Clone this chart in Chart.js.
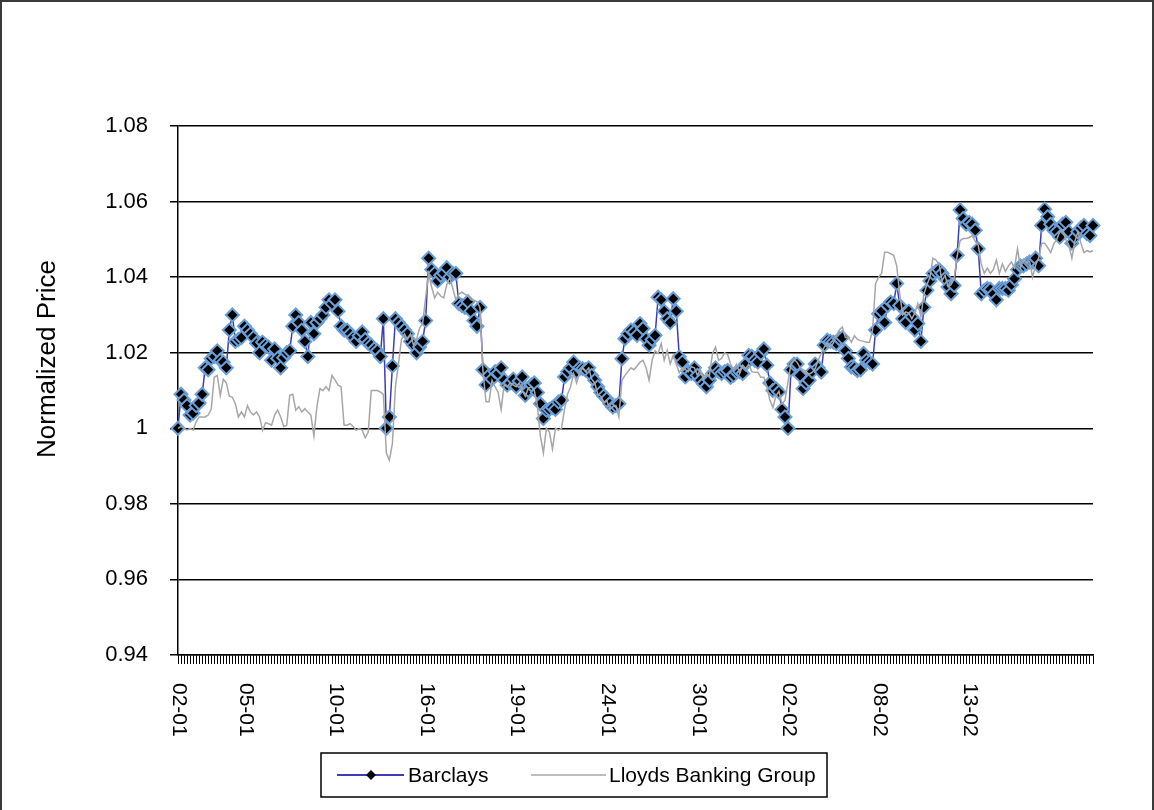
<!DOCTYPE html>
<html>
<head>
<meta charset="utf-8">
<title>Normalized Price</title>
<script src="https://cdn.jsdelivr.net/npm/chart.js@4.4.1/dist/chart.umd.min.js"></script>
<style>
  html, body { margin: 0; padding: 0; background: #fff; }
  #frame { position: relative; width: 1154px; height: 810px; overflow: hidden; }
  #frame .edge { position: absolute; left: 0; top: 0; width: 1150px; height: 830px; border: 2px solid #3a3a3a; pointer-events: none; }
  canvas { display: block; }
</style>
</head>
<body>
<div id="frame">
  <canvas id="priceChart" width="1154" height="810"></canvas>
  <div class="edge"></div>
</div>
<script>
// x axis: one category per observation, date labels only at a few of them
const tickPos = [0, 22, 52, 82, 112, 142, 172, 202, 232, 262];
const tickText = ["02-01", "05-01", "10-01", "16-01", "19-01", "24-01", "30-01", "02-02", "08-02", "13-02"];
const yTicks = [0.94, 0.96, 0.98, 1, 1.02, 1.04, 1.06, 1.08];

const barclays = [
  1.000, 1.009, 1.0075, 1.006, 1.0035, 1.004, 1.006, 1.0067, 1.009, 1.016,
  1.0155, 1.0185, 1.019, 1.0205, 1.018, 1.0175, 1.016, 1.026, 1.030, 1.023,
  1.0235, 1.024, 1.027, 1.026, 1.025, 1.024, 1.0225, 1.020, 1.0228, 1.022,
  1.0215, 1.018, 1.021, 1.0185, 1.016, 1.0187, 1.020, 1.0205, 1.027, 1.030,
  1.028, 1.026, 1.023, 1.019, 1.028, 1.025, 1.028, 1.029, 1.030, 1.032,
  1.034, 1.033, 1.034, 1.031, 1.027, 1.026, 1.026, 1.025, 1.024, 1.023,
  1.0245,
  1.0255, 1.0235, 1.0225, 1.022, 1.021, 1.0205, 1.019, 1.029, 1.000, 1.003,
  1.0165, 1.029, 1.028, 1.027, 1.026, 1.025, 1.023, 1.022, 1.020, 1.0215,
  1.023, 1.0285, 1.045, 1.042, 1.041, 1.039, 1.0405, 1.041, 1.0425, 1.040,
  1.041, 1.041, 1.033, 1.0325, 1.032, 1.0335, 1.031, 1.0285, 1.027, 1.032,
  1.0155, 1.0115, 1.014, 1.013, 1.015, 1.0145, 1.016, 1.0128, 1.0114, 1.012,
  1.013, 1.011, 1.0125, 1.0136, 1.0087, 1.010, 1.0115, 1.012, 1.0095, 1.0065,
  1.0026, 1.0048, 1.005, 1.0055, 1.005, 1.007, 1.0074, 1.0136, 1.015, 1.016,
  1.0175, 1.015, 1.016, 1.0158, 1.0155, 1.016, 1.014, 1.0127, 1.011, 1.0095,
  1.0085, 1.0078, 1.0065, 1.0056, 1.006, 1.0065, 1.0184, 1.0237, 1.025, 1.026,
  1.0255, 1.0246, 1.0277, 1.0264, 1.0237, 1.022, 1.0235, 1.0246, 1.0347, 1.034,
  1.031, 1.029, 1.028, 1.0343, 1.031, 1.0189, 1.0175, 1.0136, 1.015, 1.0145,
  1.016, 1.014, 1.0127, 1.0118, 1.011, 1.0127, 1.0145, 1.016, 1.015, 1.0145,
  1.015, 1.0153, 1.0135, 1.014, 1.0149, 1.015, 1.0145, 1.017, 1.0193, 1.019,
  1.018, 1.0175, 1.0198, 1.021, 1.0167, 1.012, 1.010, 1.0105, 1.0096, 1.005,
  1.003, 1.000, 1.0155, 1.017, 1.017, 1.014, 1.0105, 1.012, 1.0127, 1.015,
  1.017, 1.016, 1.0149, 1.022, 1.0233, 1.023, 1.0228, 1.0224, 1.0237, 1.024,
  1.0205, 1.0185, 1.0162, 1.016, 1.0153, 1.0155, 1.0198, 1.018, 1.0175, 1.017,
  1.026, 1.0303, 1.031, 1.028, 1.0325, 1.0334, 1.033, 1.0383, 1.0325, 1.029,
  1.028, 1.031, 1.0295, 1.026, 1.0277, 1.023, 1.032, 1.0365, 1.039, 1.041,
  1.0415, 1.042, 1.041, 1.0396, 1.0374, 1.0356, 1.0378, 1.0458, 1.0578, 1.0555,
  1.054, 1.0545, 1.054, 1.0524, 1.0475, 1.0356, 1.0365, 1.037, 1.0368, 1.0355,
  1.034, 1.037, 1.037, 1.037, 1.0365, 1.038, 1.0396, 1.042, 1.043, 1.043,
  1.0435, 1.044, 1.044, 1.045, 1.043, 1.0537, 1.058, 1.056, 1.054, 1.0524,
  1.052, 1.0506, 1.054, 1.0545, 1.052, 1.049, 1.0506, 1.052, 1.053, 1.0537,
  1.0515, 1.051, 1.0537
];

const lloyds = [
  1.000, 1.0005, 1.000, 0.9995, 1.000, 0.9995, 1.0017, 1.003, 1.003, 1.003,
  1.0035, 1.005, 1.0135, 1.014, 1.0087, 1.013, 1.012, 1.0085, 1.0082, 1.0065,
  1.003, 1.0043, 1.003, 1.006, 1.0043, 1.0035, 1.0043, 1.003, 0.9995, 1.0015,
  1.0012, 1.0008, 1.0035, 1.0048, 1.003, 1.0005, 1.0008, 1.0087, 1.009, 1.0048,
  1.0057, 1.0043, 1.0052, 1.0043, 1.0035, 0.998, 1.0057, 1.0105, 1.010, 1.011,
  1.010, 1.014, 1.0128, 1.0114, 1.011, 1.0008, 1.0008, 1.0012, 1.0005, 0.9995,
  1.000,
  0.9995, 0.9975, 0.999, 1.010, 1.010, 1.010, 1.0096, 1.009, 0.9935, 0.9915,
  0.996, 1.011, 1.017, 1.0235, 1.025, 1.0235, 1.025, 1.022, 1.0235, 1.0265,
  1.0277, 1.0345, 1.041, 1.0374, 1.0345, 1.036, 1.035, 1.0345, 1.038, 1.040,
  1.037, 1.034, 1.0355, 1.036, 1.0355, 1.035, 1.034, 1.0339, 1.0335, 1.032,
  1.015, 1.007, 1.007, 1.0127, 1.011, 1.0095, 1.005, 1.0115, 1.011, 1.012,
  1.0115, 1.011, 1.012, 1.010, 1.0085, 1.0105, 1.011, 1.010, 1.006, 0.998,
  0.9935, 1.000, 0.999, 0.9945, 1.000, 0.9995, 1.000, 1.005, 1.009, 1.011,
  1.0145, 1.012, 1.0148, 1.016, 1.015, 1.016, 1.013, 1.012, 1.009, 1.0085,
  1.007, 1.0073, 1.005, 1.0057, 1.006, 1.003, 1.0127, 1.014, 1.015, 1.016,
  1.0155, 1.0165, 1.0175, 1.018, 1.016, 1.0127, 1.018, 1.0205, 1.0198, 1.0224,
  1.018, 1.0206, 1.017, 1.0193, 1.017, 1.0147, 1.016, 1.0155, 1.015, 1.0163,
  1.016, 1.014, 1.0155, 1.013, 1.0145, 1.014, 1.0198, 1.0215, 1.018, 1.0185,
  1.020, 1.0195, 1.017, 1.0155, 1.017, 1.0145, 1.0167, 1.0158, 1.017, 1.015,
  1.0148, 1.0148, 1.0135, 1.0135, 1.011, 1.0075, 1.0055, 1.0085, 1.0098, 1.0065,
  1.0074, 1.0123, 1.017, 1.0182, 1.0175, 1.016, 1.0155, 1.015, 1.0143, 1.0148,
  1.0158, 1.018, 1.0198, 1.0215, 1.0225, 1.0216, 1.0225, 1.0245, 1.026, 1.0268,
  1.024, 1.024, 1.0228, 1.0245, 1.0235, 1.0232, 1.023, 1.0228, 1.0228, 1.026,
  1.0383, 1.040, 1.041, 1.0466, 1.0466, 1.0462, 1.0458, 1.043, 1.0356, 1.030,
  1.0308, 1.0305, 1.029, 1.0305, 1.033, 1.0295, 1.0355, 1.038, 1.040, 1.045,
  1.0445, 1.0435, 1.039, 1.0405, 1.0375, 1.038, 1.0395, 1.0455, 1.0497, 1.0502,
  1.0502, 1.0505, 1.051, 1.0495, 1.0484, 1.0435, 1.041, 1.0424, 1.041, 1.042,
  1.0445, 1.041, 1.0435, 1.0415, 1.043, 1.044, 1.0425, 1.0475, 1.0425, 1.0447,
  1.0438, 1.0442, 1.040, 1.0432, 1.045, 1.049, 1.049, 1.0478, 1.0465, 1.0488,
  1.050, 1.052, 1.0525, 1.050, 1.0485, 1.045, 1.0495, 1.052, 1.049, 1.0465,
  1.047, 1.0467, 1.047
];

const labels = barclays.map((v, i) => {
  const k = tickPos.indexOf(i);
  return k >= 0 ? tickText[k] : "";
});

const FONT = "'Liberation Sans', Arial, sans-serif";

// x labels read top-to-bottom, plus axis title and legend box
const extrasPlugin = {
  id: "extras",
  afterDraw(chart) {
    const ctx = chart.ctx;
    const xs = chart.scales.x;
    ctx.save();
    ctx.fillStyle = "#000";
    ctx.font = "21px " + FONT;
    ctx.textAlign = "left";
    ctx.textBaseline = "middle";
    tickPos.forEach((p, k) => {
      const x = xs.getPixelForValue(p);
      ctx.save();
      ctx.translate(x + 1, 683);
      ctx.rotate(Math.PI / 2);
      ctx.fillText(tickText[k], 0, 0);
      ctx.restore();
    });

    // y axis title
    ctx.save();
    ctx.translate(48, 359);
    ctx.rotate(-Math.PI / 2);
    ctx.textAlign = "center";
    ctx.font = "26px " + FONT;
    ctx.fillText("Normalized Price", 0, 0);
    ctx.restore();

    // legend
    const ly = 775;
    ctx.lineWidth = 1.5;
    ctx.strokeStyle = "#000";
    ctx.strokeRect(321, 753, 506, 44);
    ctx.font = "21px " + FONT;

    ctx.strokeStyle = "#3c3cb4";
    ctx.lineWidth = 2;
    ctx.beginPath();
    ctx.moveTo(337, ly);
    ctx.lineTo(404, ly);
    ctx.stroke();
    ctx.fillStyle = "#000";
    ctx.beginPath();
    ctx.moveTo(371, ly - 5);
    ctx.lineTo(376, ly);
    ctx.lineTo(371, ly + 5);
    ctx.lineTo(366, ly);
    ctx.closePath();
    ctx.fill();
    ctx.fillText("Barclays", 408, ly + 1);

    ctx.strokeStyle = "#a6a6a6";
    ctx.lineWidth = 1.5;
    ctx.beginPath();
    ctx.moveTo(531, ly);
    ctx.lineTo(606, ly);
    ctx.stroke();
    ctx.fillText("Lloyds Banking Group", 609, ly + 1);
    ctx.restore();
  }
};

const ctx = document.getElementById("priceChart");

new Chart(ctx, {
  type: "line",
  data: {
    labels: labels,
    datasets: [
      {
        label: "Barclays",
        data: barclays,
        borderColor: "#3c3cb4",
        borderWidth: 1.5,
        pointStyle: "rectRot",
        pointRadius: 6.5,
        pointBackgroundColor: "#000",
        pointBorderColor: "#6a9fd8",
        pointBorderWidth: 2,
        tension: 0,
        order: 1,
      },
      {
        label: "Lloyds Banking Group",
        data: lloyds,
        borderColor: "#a6a6a6",
        borderWidth: 1.5,
        pointRadius: 0,
        tension: 0,
        order: 0,
      },
    ],
  },
  options: {
    responsive: false,
    animation: false,
    layout: { padding: { left: 0, top: 126, right: 61, bottom: 0 } },
    plugins: {
      legend: { display: false },
      tooltip: { enabled: false },
    },
    scales: {
      x: {
        grid: {
          display: true,
          drawOnChartArea: false,
          drawTicks: true,
          tickLength: 9,
          color: "#000",
          lineWidth: 1,
        },
        border: { color: "#000", width: 1.5 },
        ticks: { autoSkip: false, maxRotation: 0, callback: () => "" },
        afterFit: (s) => {
          s.height = 155;
        },
      },
      y: {
        min: 0.94,
        max: 1.08,
        afterBuildTicks: (s) => {
          s.ticks = yTicks.map((v) => ({ value: v }));
        },
        ticks: {
          color: "#000",
          font: { family: FONT, size: 22 },
          padding: 22,
          callback: (v) => String(+v.toFixed(2)),
        },
        grid: { color: "#000", lineWidth: 1.5, tickLength: 8 },
        border: { color: "#000", width: 1.5 },
        afterFit: (s) => {
          s.width = 178;
        },
      },
    },
  },
  plugins: [extrasPlugin],
});
</script>
</body>
</html>
